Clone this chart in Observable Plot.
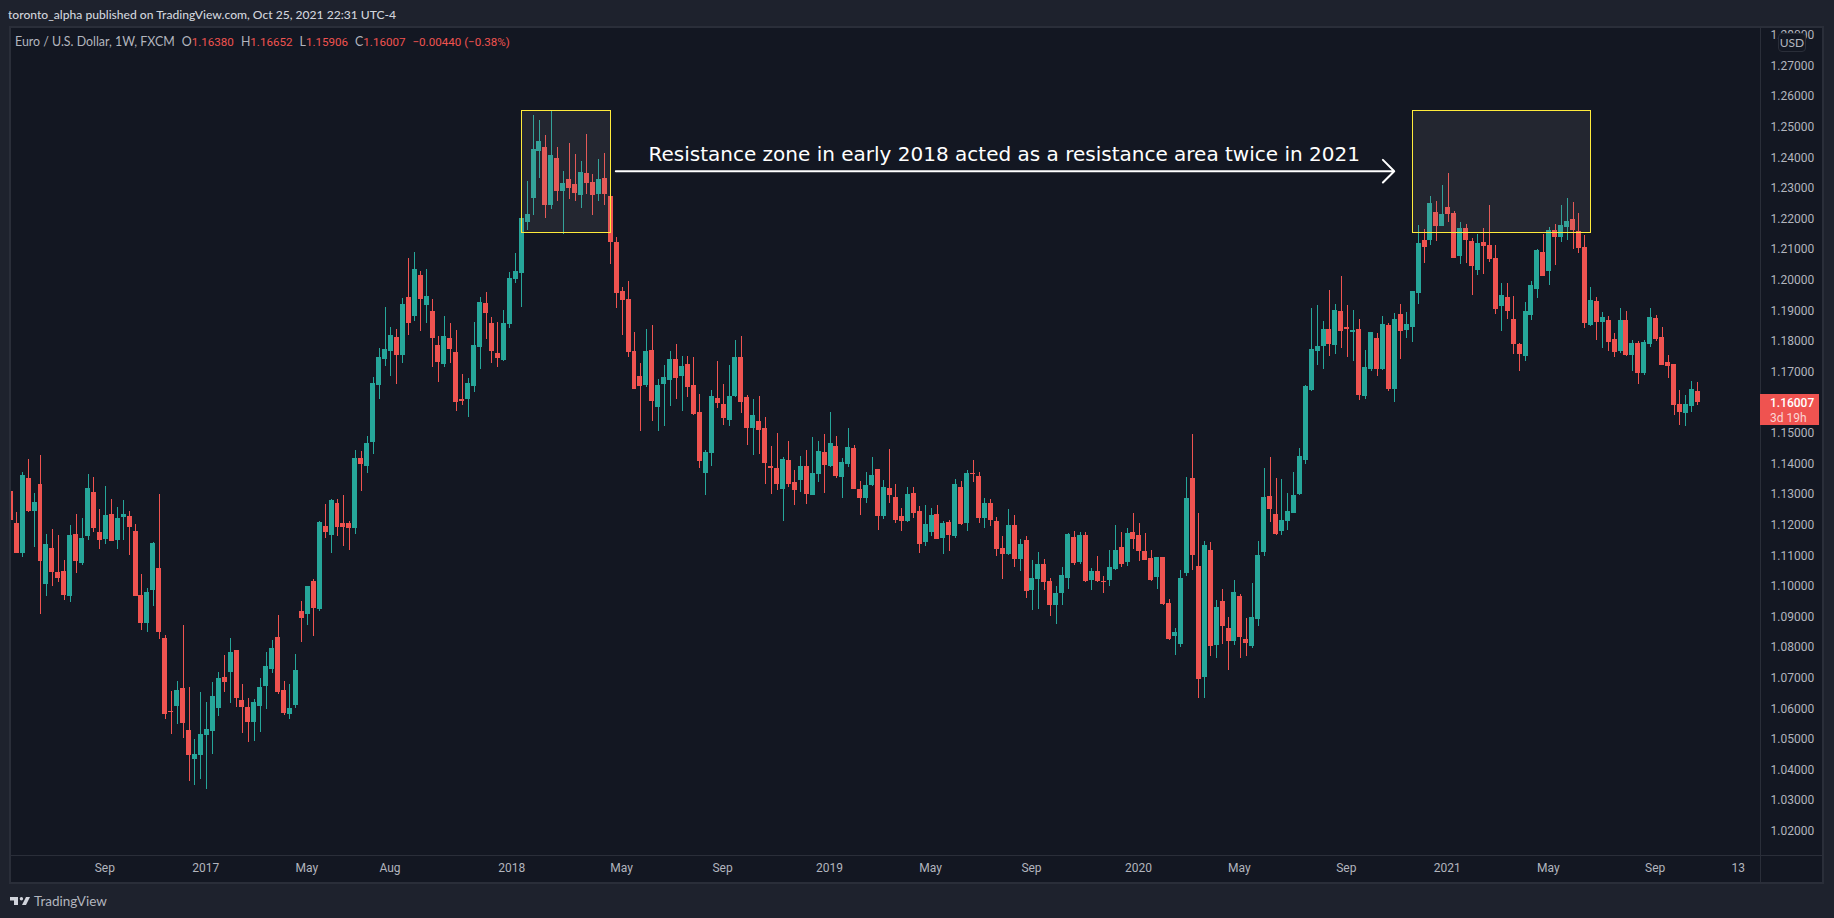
<!DOCTYPE html>
<html>
<head>
<meta charset="utf-8">
<script src="https://cdn.jsdelivr.net/npm/d3@7"></script>
<script src="https://cdn.jsdelivr.net/npm/@observablehq/plot@0.6"></script>
<style>
html,body{margin:0;padding:0;width:1834px;height:918px;overflow:hidden;background:#1e222d;color:#b2b5be;font-family:Lato,Roboto,sans-serif}
.abs{position:absolute;white-space:pre}
#pane{left:9px;top:26px;width:1815px;height:858px;box-sizing:border-box;background:#131722;border:2px solid #2a2e39}
#chart{left:0;top:27px}
#chart svg{display:block;overflow:hidden}
.sep{background:#2a2e39}
.r{color:#ef5350;font-family:Roboto,sans-serif;font-size:11.6px}
.g{margin-left:7px}
</style>
</head>
<body>
<div class="abs" id="pane"></div>
<div class="abs sep" style="left:1760px;top:28px;width:1px;height:854px"></div>
<div class="abs sep" style="left:11px;top:855px;width:1811px;height:1px"></div>
<div class="abs" id="chart"></div>
<div class="abs" style="left:8px;top:7px;font-size:12.1px;line-height:16px;color:#d1d4dc;font-weight:500">toronto_alpha published on TradingView.com, Oct 25, 2021 22:31 UTC-4</div>
<div class="abs" style="left:15px;top:34px;font-size:12.4px;line-height:16px;color:#b2b5be">Euro / U.S. Dollar, 1W, FXCM<span class="g">O</span><span class="r">1.16380</span><span class="g">H</span><span class="r">1.16652</span><span class="g">L</span><span class="r">1.15906</span><span class="g">C</span><span class="r">1.16007</span><span class="r g">−0.00440 (−0.38%)</span></div>
<div class="abs" style="left:1778px;top:33px;width:28px;height:19px;box-sizing:border-box;background:#131722;border:1px solid #2a2e39;border-radius:4px;font-size:12px;line-height:17px;text-align:center;color:#b2b5be">USD</div>
<div class="abs" style="left:1760px;top:394px;width:59px;height:31px;background:#ef5350;color:#fff;font-family:Roboto,sans-serif;font-size:12px;line-height:14px;padding:2px 0 0 10px;box-sizing:border-box;text-align:left;font-weight:500">1.16007<div style="color:#fbd5d4;font-weight:400;margin-top:1px">3d 19h</div></div>
<div class="abs" style="left:10px;top:893px;display:flex;align-items:center;gap:4px;color:#b2b5be;font-size:13.5px;line-height:16px">
<svg width="20" height="12" viewBox="0 4 35 18" fill="#d1d4dc"><path d="M14 6H0v6h7v8h7V6Zm14 14h-7l7-14h7l-7 14Z"/><circle cx="20" cy="9" r="3"/></svg><span>TradingView</span></div>
<script>
// Weekly EUR/USD candles, prices in 1/10000 of a dollar
const opens = [11310,11205,11107,11352,11245,11333,11006,11124,11045,11049,
10967,11169,11075,11163,11307,11176,11153,11235,11150,11225,
11228,11179,10970,10879,10987,11058,10830,10591,10608,10666,
10529,10434,10447,10513,10526,10601,10702,10718,10790,10627,
10604,10555,10608,10673,10728,10833,10660,10581,10611,10918,
10908,11016,10924,11196,11166,11271,11205,11205,11189,11418,
11392,11470,11656,11741,11767,11813,11754,11944,11882,12016,
11918,11898,11787,11725,11810,11764,11610,11610,11653,11780,
11924,11859,11761,11738,11855,12002,12022,12189,12267,12421,
12434,12244,12398,12290,12329,12313,12277,12349,12319,12280,
12332,12274,12123,11963,11937,11767,11686,11656,11770,11584,
11659,11672,11741,11686,11725,11656,11568,11369,11434,11614,
11594,11542,11620,11748,11617,11516,11539,11516,11391,11385,
11316,11411,11339,11346,11391,11297,11365,11437,11391,11457,
11356,11398,11450,11316,11287,11329,11382,11228,11320,11290,
11228,11212,11303,11245,11143,11176,11235,11156,11209,11163,
11323,11205,11369,11359,11222,11271,11212,11124,11104,11199,
11088,11150,10986,11022,11071,11016,10937,10977,11026,11160,
11078,11166,11019,11048,11016,11019,11055,11127,11078,11176,
11166,11114,11091,11029,11094,10944,10836,10810,11042,11352,
11065,10702,11117,10807,10950,10862,10820,10967,10826,10803,
10892,11111,11294,11235,11179,11212,11238,11300,11411,11640,
11767,11784,11839,11787,11898,11846,11829,11839,11620,11708,
11810,11708,11852,11643,11888,11836,11846,11957,12130,12130,
12221,12176,12238,12218,12078,12169,12127,12032,12123,12113,
12071,11914,11944,11872,11790,11751,11885,11970,12091,12029,
12163,12140,12172,12198,12159,12107,11852,11931,11862,11869,
11806,11767,11869,11754,11793,11695,11790,11875,11813,11731,
11725,11594,11565,11588,11638];
const highs = [11349,11241,11372,11414,11303,11428,11169,11186,11166,11084,
11199,11235,11222,11365,11356,11251,11326,11284,11258,11280,
11245,11202,11039,10993,11143,11300,10839,10656,10689,10872,
10670,10500,10653,10620,10686,10718,10774,10830,10790,10679,
10634,10630,10699,10784,10823,10905,10689,10679,10777,10951,
11000,11022,11212,11267,11284,11284,11297,11212,11444,11441,
11490,11682,11777,11911,11846,11839,11940,12071,12091,12029,
12035,11937,11816,11882,11859,11836,11692,11679,11862,11944,
11960,11878,11862,11901,12025,12087,12202,12323,12538,12522,
12473,12551,12434,12355,12447,12411,12388,12476,12345,12394,
12414,12274,12140,11976,11996,11829,11728,11839,11852,11676,
11722,11767,11790,11751,11751,11748,11627,11444,11640,11735,
11659,11722,11803,11816,11623,11610,11620,11552,11457,11499,
11421,11473,11378,11424,11444,11486,11473,11496,11568,11490,
11418,11516,11460,11343,11372,11421,11382,11346,11447,11333,
11254,11323,11323,11261,11264,11254,11264,11212,11215,11349,
11343,11378,11411,11372,11287,11284,11225,11163,11251,11231,
11153,11163,11084,11111,11088,11026,10999,11062,11173,11179,
11176,11176,11058,11097,11032,11117,11199,11176,11189,11238,
11205,11173,11117,11094,11094,10957,10862,11052,11356,11496,
11238,11147,11143,10954,10990,10898,11019,10973,10895,11009,
11147,11385,11421,11352,11349,11303,11372,11450,11656,11908,
11918,11865,11967,11921,12012,11918,11901,11872,11770,11829,
11826,11882,11859,11891,11921,11895,11963,12179,12166,12274,
12257,12310,12349,12225,12189,12182,12136,12150,12169,12244,
12113,11989,11989,11947,11793,11927,11996,12100,12150,12172,
12182,12244,12267,12254,12218,12146,11976,11944,11895,11882,
11826,11908,11898,11803,11800,11803,11908,11885,11846,11754,
11725,11640,11623,11669,11665.2];
const lows = [11176,11107,11094,11241,11127,10908,10967,11000,11013,10954,
10947,11042,11068,11150,11176,11120,11137,11146,11120,11150,
11101,10967,10856,10849,10934,10826,10565,10516,10549,10503,
10362,10349,10369,10336,10451,10575,10653,10617,10604,10519,
10490,10493,10522,10598,10715,10647,10578,10565,10601,10817,
10872,10836,10918,11156,11107,11163,11130,11117,11169,11310,
11369,11431,11610,11718,11686,11659,11728,11820,11865,11833,
11859,11715,11666,11715,11728,11571,11591,11552,11633,11708,
11806,11728,11715,11735,11842,11989,11911,12163,12212,12332,
12202,12231,12257,12150,12264,12257,12234,12280,12212,12257,
12244,12051,11908,11820,11748,11643,11506,11650,11539,11506,
11522,11587,11610,11571,11617,11558,11385,11297,11391,11581,
11525,11522,11617,11565,11460,11427,11431,11333,11300,11313,
11212,11323,11264,11307,11267,11297,11339,11303,11388,11352,
11287,11388,11316,11231,11271,11326,11182,11218,11271,11205,
11179,11209,11222,11107,11130,11163,11153,11104,11114,11156,
11199,11179,11339,11205,11189,11196,11097,11022,11101,11062,
11048,10960,10921,10924,10986,10901,10875,10937,10990,11068,
11071,11013,10986,11013,10977,10999,11052,11062,11065,11120,
11081,11084,11016,10990,10937,10823,10774,10800,11032,11052,
10634,10634,10771,10764,10810,10725,10807,10764,10771,10797,
10869,11097,11209,11166,11166,11182,11238,11297,11398,11637,
11722,11708,11751,11757,11777,11748,11735,11607,11610,11702,
11686,11705,11637,11601,11741,11810,11797,11921,12055,12113,
12127,12176,12189,12071,12051,12055,11950,12015,12019,12058,
11888,11833,11872,11757,11702,11735,11869,11940,12012,11983,
12048,12123,12130,12100,12087,11842,11849,11803,11777,11767,
11748,11761,11751,11702,11659,11689,11780,11800,11722,11679,
11558,11526,11522,11568,11590.6];
const closes = [11215,11107,11362,11245,11274,11081,11137,11045,11026,10970,
11166,11081,11156,11320,11189,11150,11231,11146,11222,11235,
11192,10967,10879,10980,11140,10849,10581,10588,10660,10552,
10447,10451,10516,10532,10640,10699,10686,10784,10634,10604,
10555,10620,10670,10738,10797,10653,10585,10601,10725,10895,
11000,10928,11209,11176,11280,11192,11192,11189,11418,11398,
11467,11663,11748,11774,11820,11754,11921,11859,12035,11937,
11947,11810,11731,11816,11774,11601,11604,11663,11787,11927,
11891,11767,11744,11859,12006,12029,12202,12215,12427,12453,
12244,12408,12290,12316,12300,12283,12352,12316,12277,12329,
12280,12123,11957,11934,11764,11643,11653,11767,11604,11656,
11682,11741,11679,11718,11650,11561,11408,11437,11620,11597,
11548,11620,11748,11601,11516,11558,11509,11401,11385,11333,
11414,11333,11313,11391,11300,11369,11441,11395,11467,11359,
11405,11454,11316,11287,11329,11362,11228,11323,11297,11215,
11212,11300,11238,11137,11202,11231,11153,11205,11166,11333,
11202,11369,11365,11222,11271,11215,11120,11104,11199,11088,
11137,10983,11026,11071,11013,10937,10977,11035,11169,11075,
11166,11016,11048,11016,11013,11062,11117,11071,11173,11153,
11114,11084,11019,11094,10941,10826,10849,11026,11287,11101,
10696,11133,10803,10931,10869,10820,10980,10833,10813,10898,
11101,11290,11251,11169,11215,11245,11297,11424,11653,11774,
11784,11839,11790,11901,11833,11839,11836,11624,11715,11829,
11708,11855,11643,11872,11833,11855,11963,12120,12107,12251,
12176,12215,12215,12071,12169,12130,12045,12120,12110,12068,
11904,11950,11898,11790,11757,11898,11983,12097,12012,12163,
12140,12179,12192,12163,12104,11859,11934,11862,11878,11797,
11764,11869,11754,11793,11695,11797,11878,11806,11722,11718,
11591,11568,11594,11643,11600.7];

// Time axis: bar index of each label, and the label
const timeTicks = [16,33,50,64,84.5,103,120,138,155,172,190,207,225,242,259,277,291];
const timeLabels = ["Sep","2017","May","Aug","2018","May","Sep","2019","May","Sep","2020","May","Sep","2021","May","Sep","13"];
// Price axis labels (1.16 sits under the last-price tag in the reference)
const priceTicks = [1.02,1.03,1.04,1.05,1.06,1.07,1.08,1.09,1.10,1.11,1.12,1.13,1.14,1.15,1.17,1.18,1.19,1.20,1.21,1.22,1.23,1.24,1.25,1.26,1.27,1.28];

// Resistance zones (bar index, price)
const zoneStart = [86,236];
const zoneEnd = [101,266];
const zoneTop = 1.25536;
const zoneBottom = 1.2155;
// Annotation
const noteText = "Resistance zone in early 2018 acted as a resistance area twice in 2021";
const noteBar = 107.35;
const notePrice = 1.24108;
const arrowFromBar = 101.85;
const arrowToBar = 232.9;
const arrowPrice = 1.23563;

const candles = opens.map((o,i)=>({i,o:o/1e4,h:highs[i]/1e4,l:lows[i]/1e4,c:closes[i]/1e4,dir:closes[i]>=o?"up":"down"}));
const zones = zoneStart.map((s,k)=>({s,e:zoneEnd[k]}));

const chart = Plot.plot({
  width:1834,height:856,
  marginLeft:11,marginRight:74,marginTop:1,marginBottom:28,
  style:{background:"transparent",fontFamily:"Roboto,sans-serif",fontSize:"12px"},
  x:{type:"linear",domain:[0.118,294.56]},
  y:{type:"linear",domain:[1.01207,1.28224]},
  color:{domain:["up","down"],range:["#26a69a","#ef5350"]},
  marks:[
    Plot.axisX({anchor:"bottom",ticks:timeTicks,tickSize:0,tickPadding:8,label:null,stroke:"none",color:"#b2b5be",fontSize:12,dx:-1,
      tickFormat:v=>timeLabels[timeTicks.indexOf(v)]}),
    Plot.axisY({anchor:"right",ticks:priceTicks,tickSize:0,tickPadding:10,label:null,color:"#b2b5be",fontSize:12,
      tickFormat:v=>d3.format(".5f")(v)}),
    Plot.ruleX(candles,{x:"i",y1:"l",y2:"h",stroke:"dir",strokeWidth:1,clip:true,shapeRendering:"crispEdges"}),
    Plot.rect(candles,{x1:d=>d.i-0.42,x2:d=>d.i+0.42,y1:"o",y2:"c",fill:"dir",clip:true,shapeRendering:"crispEdges"}),
    Plot.rect(zones,{x1:"s",x2:"e",y1:()=>zoneBottom,y2:()=>zoneTop,fill:"#958a96",fillOpacity:0.13,stroke:"#ffeb3b",strokeWidth:1,shapeRendering:"crispEdges"}),
    Plot.arrow([{}],{x1:()=>arrowFromBar,x2:()=>arrowToBar,y1:()=>arrowPrice,y2:()=>arrowPrice,stroke:"#ffffff",strokeWidth:2,headLength:12,headAngle:90,bend:0}),
    Plot.text([noteText],{x:()=>noteBar,y:()=>notePrice,text:d=>d,textAnchor:"start",lineAnchor:"middle",fill:"#ffffff",fontSize:20,fontFamily:"DejaVu Sans"})
  ]
});
document.getElementById("chart").appendChild(chart);
</script>
</body>
</html>
